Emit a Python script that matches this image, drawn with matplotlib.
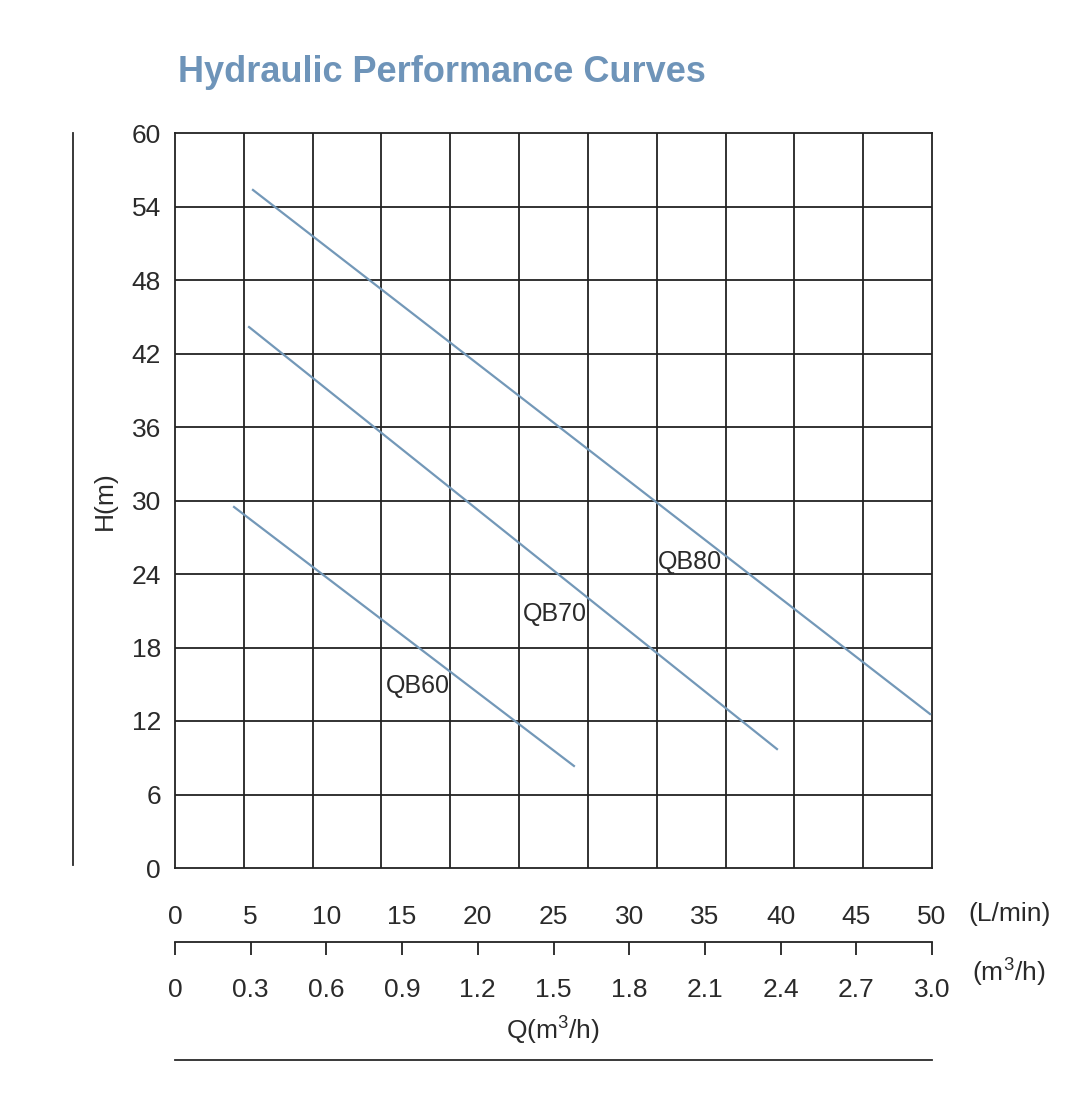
import matplotlib
matplotlib.use("Agg")
import matplotlib.pyplot as plt
import numpy as np
from matplotlib.lines import Line2D

plt.rcParams['font.family'] = ['Liberation Sans', 'DejaVu Sans']
plt.rcParams['mathtext.fontset'] = 'custom'
plt.rcParams['mathtext.rm'] = 'Liberation Sans'

# расход (L/min) и напор (m) - концы прямых
qb80_q = [5.15, 49.87]
qb80_h = [55.35, 12.57]
qb70_q = [4.89, 39.76]
qb70_h = [44.16, 9.71]
qb60_q = [3.90, 26.35]
qb60_h = [29.47, 8.33]

# подписи кривых: имя, Q, H
curve_labels = [('QB80', 31.9, 24.98), ('QB70', 22.99, 20.73), ('QB60', 13.94, 14.86)]

lmin_ticks = np.arange(0, 51, 5)
m3h_ticks = [0, 0.3, 0.6, 0.9, 1.2, 1.5, 1.8, 2.1, 2.4, 2.7, 3.0]
m3h_labels = ['0', '0.3', '0.6', '0.9', '1.2', '1.5', '1.8', '2.1', '2.4', '2.7', '3.0']
h_ticks = np.arange(0, 61, 6)
n_cols = 11  # сетка по X не совпадает с делениями шкалы

W, H = 1075, 1094
grid_c = '#222222'
curve_c = '#7398b8'
text_c = '#2a2a2a'

fig = plt.figure(figsize=(W / 100, H / 100), dpi=100)


def fx(px):
    return px / W


def fy(py):
    return 1 - py / H


ax = fig.add_axes([fx(175), fy(868), fx(932) - fx(175), fy(133) - fy(868)])
ax.set_xlim(0, 50)
ax.set_ylim(0, 60)

for x in np.linspace(0, 50, n_cols + 1)[1:-1]:
    ax.axvline(x, color=grid_c, lw=1.3, zorder=1)
for y in h_ticks[1:-1]:
    ax.axhline(y, color=grid_c, lw=1.3, zorder=1)
for s in ax.spines.values():
    s.set_color(grid_c)
    s.set_linewidth(1.3)

for q, h in [(qb80_q, qb80_h), (qb70_q, qb70_h), (qb60_q, qb60_h)]:
    ax.plot(q, h, color=curve_c, lw=1.6, zorder=3)

for name, q, h in curve_labels:
    ax.text(q, h, name, ha='left', va='center', fontsize=18, color=text_c, zorder=4)

ax.set_yticks(h_ticks)
ax.set_xticks(lmin_ticks)
ax.tick_params(axis='y', length=0, pad=10, labelsize=19, labelcolor=text_c)
ax.tick_params(axis='x', length=0, pad=27, labelsize=19, labelcolor=text_c)
ax.set_ylabel('H(m)', fontsize=19, color=text_c, labelpad=11)

# нижняя шкала в m3/h
ax2 = fig.add_axes([fx(175), fy(942), fx(932) - fx(175), 0.0005])
ax2.set_xlim(0, 3.0)
ax2.set_ylim(0, 1)
ax2.set_yticks([])
ax2.set_xticks(m3h_ticks)
ax2.set_xticklabels(m3h_labels)
for k in ['top', 'left', 'right']:
    ax2.spines[k].set_visible(False)
ax2.spines['bottom'].set_color(grid_c)
ax2.spines['bottom'].set_linewidth(1.3)
ax2.patch.set_visible(False)
ax2.tick_params(axis='x', direction='out', length=9, width=1.3, color=grid_c,
                pad=17, labelsize=19, labelcolor=text_c)

fig.text(fx(968), fy(914), '(L/min)', ha='left', va='center', fontsize=19, color=text_c)
fig.text(fx(972), fy(972), '(m$^3$/h)', ha='left', va='center', fontsize=19, color=text_c)
fig.text(fx(553), fy(1030), 'Q(m$^3$/h)', ha='center', va='center', fontsize=19, color=text_c)

fig.text(fx(178), fy(72), 'Hydraulic Performance Curves', ha='left', va='center',
         fontsize=26, fontweight='bold', color='#6e94b9')

fig.add_artist(Line2D([fx(73), fx(73)], [fy(133), fy(865)], color=text_c, lw=1.3))
fig.add_artist(Line2D([fx(175), fx(932)], [fy(1060), fy(1060)], color=text_c, lw=1.3))

fig.savefig('out.png', dpi=100)
